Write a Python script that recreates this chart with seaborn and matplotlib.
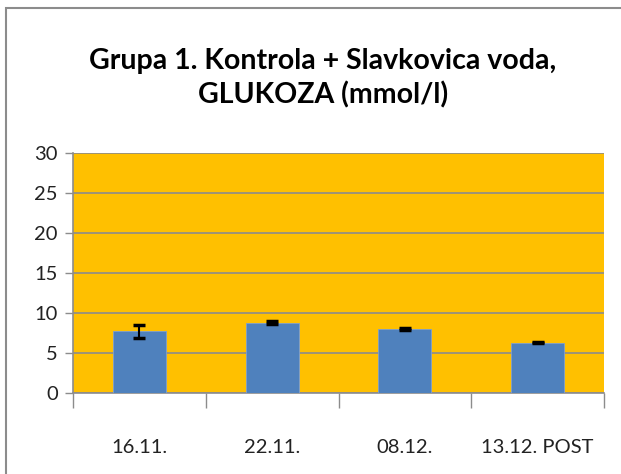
import pandas as pd
import matplotlib.pyplot as plt
import seaborn as sns
from matplotlib.patches import Rectangle

dates = ['16.11.', '22.11.', '08.12.', '13.12. POST']
glukoza = [7.7, 8.8, 8.0, 6.3]
greska = [0.85, 0.15, 0.12, 0.1]

df = pd.DataFrame({'Datum': dates, 'Glukoza': glukoza})

sns.set_style('white')
plt.rcParams['font.family'] = ['Lato', 'DejaVu Sans']

fig = plt.figure(figsize=(6.21, 4.74), dpi=100)
ax = fig.add_axes([73 / 621, 1 - 393 / 474, 531 / 621, 240 / 474])

ax.set_facecolor('#FFC000')
sns.barplot(data=df, x='Datum', y='Glukoza', color='#4F81BD', width=0.4,
            saturation=1, edgecolor='#7F9FCF', linewidth=0.6, ax=ax, zorder=3)
ax.errorbar(range(len(dates)), glukoza, yerr=greska, fmt='none',
            ecolor='black', elinewidth=1.5, capsize=4, capthick=2.5, zorder=4)

ax.set_ylim(0, 30)
ax.set_xlim(-0.5, len(dates) - 0.5)
ax.set_yticks(range(0, 31, 5))
ax.yaxis.grid(True, color='#8C8C8C', linewidth=1.2, zorder=1)
ax.set_axisbelow(True)

for s in ['top', 'right']:
    ax.spines[s].set_visible(False)
for s in ['left', 'bottom']:
    ax.spines[s].set_color('#8C8C8C')
    ax.spines[s].set_linewidth(1.2)

ax.set_xticks([i - 0.5 for i in range(len(dates) + 1)], minor=True)
ax.tick_params(axis='x', which='minor', length=11, width=1, color='#8C8C8C',
               direction='out', bottom=True)
ax.tick_params(axis='x', which='major', length=0, pad=33, labelsize=14.5,
               labelcolor='#222222')
ax.tick_params(axis='y', length=6, width=1, color='#8C8C8C', direction='out',
               left=True, labelsize=14.5, labelcolor='#222222', pad=5)
ax.set_xlabel('')
ax.set_ylabel('')

fig.text(0.52, 0.835, 'Grupa 1. Kontrola + Slavkovica voda,\nGLUKOZA (mmol/l)',
         ha='center', va='center', fontsize=20.5, fontweight='bold',
         linespacing=1.35, color='black')

fig.patches.append(Rectangle((6 / 621, -0.1), 1.2, 1.1 - 8 / 474,
                             transform=fig.transFigure, fill=False,
                             edgecolor='#8C8C8C', linewidth=1.5))

fig.savefig('out.png', dpi=100)
